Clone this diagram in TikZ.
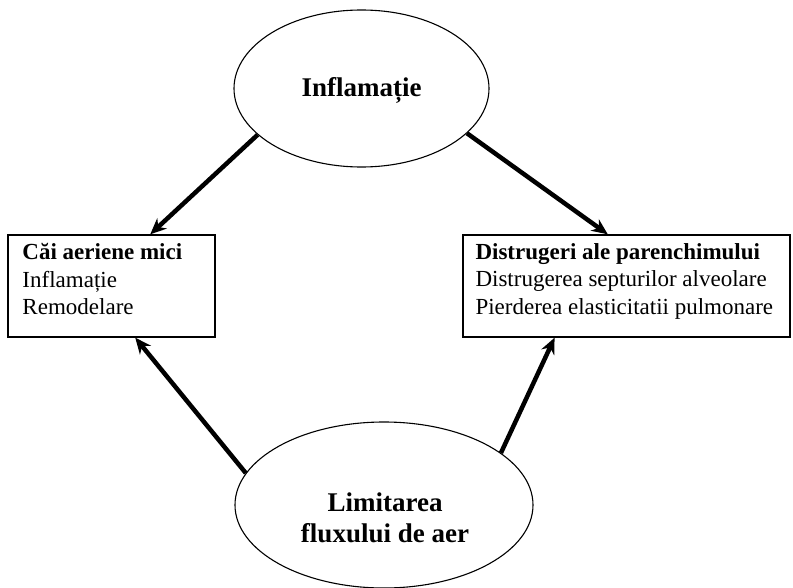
\documentclass[tikz,border=0pt]{standalone}
\usepackage{fontspec}
\setmainfont{Liberation Serif}
\usetikzlibrary{shapes.geometric,arrows.meta,calc}
\begin{document}
\begin{tikzpicture}[x=1pt,y=-1pt,
  oval/.style={ellipse,draw,line width=1.1pt,inner sep=0pt},
  ovaltext/.style={inner sep=0pt,font=\fontsize{27}{31}\selectfont\bfseries,align=center},
  panel/.style={draw,line width=1.4pt,inner sep=0pt},
  paneltext/.style={anchor=north west,inner sep=0pt,align=left,font=\fontsize{23}{27.5}\selectfont},
  flow/.style={line width=4.5pt,-{Stealth[length=16pt,width=14pt]}}]
\useasboundingbox (0,0) rectangle (793,588);
\node[oval,minimum width=255pt,minimum height=157pt] (top) at (361.5,88.5) {};
\node[ovaltext] (toplabel) at ($(top)+(0,2)$) {Inflamație};
\node[oval,minimum width=298pt,minimum height=166pt] (bot) at (384,505) {};
\node[ovaltext] (botlabel) at ($(bot)+(1,13)$) {Limitarea\\fluxului de aer};
\node[panel,minimum width=207pt,minimum height=102pt] (lbox) at (111.5,286) {};
\node[panel,minimum width=327pt,minimum height=102pt] (rbox) at (626.5,286) {};
\node[paneltext] (ltext) at ($(lbox.north west)+(15,9)$) {\textbf{Căi aeriene mici}\\Inflamație\\Remodelare};
\node[paneltext] (rtext) at ($(rbox.north west)+(13,9)$) {\textbf{Distrugeri ale parenchimului}\\Distrugerea septurilor alveolare\\Pierderea elasticitatii pulmonare};
\draw[flow] (top.204) -- ($(lbox.north west)!0.686!(lbox.north east)$);
\draw[flow] (top.337) -- ($(rbox.north west)!0.443!(rbox.north east)$);
\draw[flow] (bot.167) -- ($(lbox.south west)!0.614!(lbox.south east)$);
\draw[flow] (bot.24) -- ($(rbox.south west)!0.281!(rbox.south east)$);
\end{tikzpicture}
\end{document}
